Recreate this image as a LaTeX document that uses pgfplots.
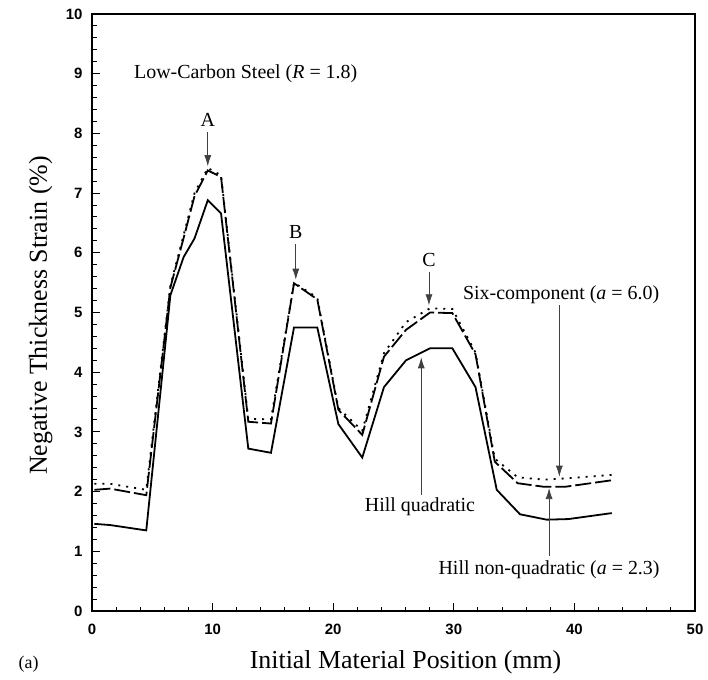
\documentclass[border=0pt]{standalone}
\usepackage{fontspec}
\setmainfont{Liberation Serif}
\newfontfamily\tickfont{Liberation Sans}
\usepackage{pgfplots}
\pgfplotsset{compat=1.18}
\usetikzlibrary{arrows.meta}

\begin{document}
\begin{tikzpicture}[
 annot/.style={font=\fontsize{20}{24}\selectfont},
 arr/.style={black!75, line width=0.7bp, -{Latex[length=11bp,width=7bp]}},
]
\begin{axis}[
 width=603bp, height=597bp, scale only axis,
 xmin=0, xmax=50, ymin=0, ymax=10,
 xtick={0,10,20,30,40,50}, xticklabels={0,10,20,30,40,50},
 ytick={0,1,2,3,4,5,6,7,8,9,10}, yticklabels={0,1,2,3,4,5,6,7,8,9,10},
 minor x tick num=4, minor y tick num=4,
 tick align=inside, xtick pos=bottom, ytick pos=left,
 major tick length=8bp, minor tick length=4.5bp,
 every tick/.style={black, line width=1bp},
 axis line style={line width=1.6bp},
 ticklabel style={font=\tickfont\bfseries\fontsize{15}{15}\selectfont},
 xticklabel style={yshift=-10bp},
 yticklabel style={xshift=-6bp},
 xlabel={Initial Material Position (mm)},
 ylabel={Negative Thickness Strain (\%)},
 label style={font=\fontsize{26}{30}\selectfont},
 xlabel style={at={(axis description cs:0.52,-0.0955)}, anchor=base},
 ylabel style={at={(axis description cs:-0.075,0.495)}, anchor=base},
 clip=false,
]
% Hill quadratic (solid)
\addplot[black, line width=1.8bp] coordinates {
(0.2,1.46) (1.5,1.44) (4.5,1.35) (6.5,5.29) (7.6,5.93) (8.5,6.24) (9.6,6.88) (10.7,6.66)
(12.96,2.72) (14.84,2.65) (16.75,4.75) (18.68,4.75) (20.43,3.13) (22.41,2.57) (24.21,3.75)
(26.04,4.20) (28.03,4.40) (29.88,4.40) (31.8,3.75) (33.56,2.03) (35.49,1.62) (37.7,1.53)
(39.5,1.54) (43.1,1.64)};
% Hill non-quadratic (dashed)
\addplot[black, line width=1.8bp, dash pattern=on 16bp off 4bp] coordinates {
(0.2,2.03) (1.5,2.05) (4.5,1.94) (6.5,5.42) (7.6,6.25) (8.5,6.95) (9.6,7.38) (10.7,7.27)
(12.96,3.17) (14.84,3.14) (16.75,5.49) (18.68,5.22) (20.43,3.37) (22.41,2.95) (24.21,4.26)
(26.04,4.71) (28.03,5.00) (29.88,4.99) (31.8,4.30) (33.4,2.50) (35.3,2.14) (37.5,2.08)
(39.2,2.08) (43.1,2.19)};
% Six-component (dotted)
\addplot[black, line width=1.8bp, dash pattern=on 2bp off 6bp] coordinates {
(0.2,2.13) (1.5,2.13) (4.5,2.03) (6.5,5.45) (7.6,6.30) (8.5,7.00) (9.6,7.42) (10.7,7.30)
(12.96,3.22) (14.84,3.21) (16.75,5.50) (18.68,5.25) (20.43,3.40) (22.41,3.02) (24.21,4.32)
(26.04,4.84) (28.03,5.07) (29.88,5.06) (31.8,4.33) (33.4,2.55) (35.3,2.24) (37.5,2.20)
(39.2,2.22) (43.1,2.28)};

\node[annot, anchor=west] at (axis cs:3.2,9.0) {Low-Carbon Steel (\textit{R} = 1.8)};
\node[annot] at (axis cs:9.6,8.22) {A};
\draw[arr] (axis cs:9.6,8.02) -- (axis cs:9.6,7.45);
\node[annot] at (axis cs:16.9,6.35) {B};
\draw[arr] (axis cs:16.9,6.15) -- (axis cs:16.9,5.55);
\node[annot] at (axis cs:27.94,5.88) {C};
\draw[arr] (axis cs:27.94,5.68) -- (axis cs:27.94,5.12);
\node[annot] at (axis cs:38.9,5.29) {Six-component (\textit{a} = 6.0)};
\draw[arr] (axis cs:38.75,5.12) -- (axis cs:38.75,2.25);
\node[annot] at (axis cs:27.2,1.74) {Hill quadratic};
\draw[arr] (axis cs:27.3,1.95) -- (axis cs:27.3,4.25);
\node[annot] at (axis cs:37.9,0.69) {Hill non-quadratic (\textit{a} = 2.3)};
\draw[arr] (axis cs:37.9,0.92) -- (axis cs:37.9,2.06);
\node[font=\fontsize{18}{20}\selectfont, anchor=base] at (rel axis cs:-0.105,-0.0955) {(a)};

\coordinate (BL) at (rel axis cs:0,0);
\coordinate (TR) at (rel axis cs:1,1);
\end{axis}
\pgfresetboundingbox
\path ([shift={(-92bp,-68bp)}]BL) rectangle ([shift={(13bp,14bp)}]TR);
\end{tikzpicture}
\end{document}
